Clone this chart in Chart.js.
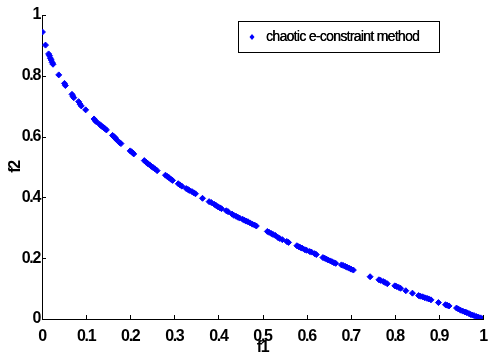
<!DOCTYPE html>
<html><head><meta charset="utf-8">
<script src="https://cdn.jsdelivr.net/npm/chart.js@4"></script>
<style>html,body{margin:0;padding:0;background:#fff}#wrap{width:488px;height:352px}</style>
</head><body><div id="wrap"><canvas id="c" width="488" height="352"></canvas></div>
<script>
const seriesLabel = "chaotic e-constraint method";
const f1 = [0.001,0.008,0.015,0.017,0.019,0.021,0.023,0.025,0.038,0.051,0.053,0.068,0.070,0.072,0.083,0.086,0.089,0.099,0.118,0.121,0.123,0.131,0.134,0.137,0.140,0.143,0.146,0.160,0.163,0.166,0.169,0.176,0.179,0.200,0.203,0.206,0.208,0.232,0.236,0.240,0.244,0.248,0.252,0.256,0.261,0.280,0.284,0.288,0.292,0.296,0.309,0.313,0.317,0.327,0.331,0.334,0.340,0.344,0.348,0.364,0.379,0.384,0.391,0.395,0.399,0.403,0.407,0.418,0.422,0.431,0.435,0.440,0.444,0.448,0.455,0.459,0.463,0.467,0.472,0.477,0.482,0.486,0.511,0.515,0.520,0.524,0.529,0.535,0.539,0.545,0.555,0.559,0.578,0.582,0.586,0.590,0.596,0.600,0.607,0.611,0.618,0.622,0.637,0.641,0.645,0.649,0.654,0.658,0.662,0.666,0.679,0.683,0.688,0.692,0.697,0.701,0.706,0.744,0.764,0.768,0.774,0.778,0.783,0.800,0.804,0.809,0.813,0.825,0.840,0.854,0.858,0.863,0.868,0.873,0.877,0.882,0.899,0.915,0.919,0.923,0.940,0.944,0.949,0.954,0.959,0.963,0.968,0.972,0.976,0.980,0.985,0.989,0.993,0.997,1.000];
const f2 = [0.944,0.901,0.872,0.866,0.858,0.852,0.844,0.838,0.803,0.775,0.768,0.739,0.733,0.728,0.715,0.707,0.701,0.688,0.658,0.652,0.649,0.640,0.636,0.632,0.629,0.626,0.622,0.604,0.600,0.596,0.590,0.580,0.577,0.553,0.550,0.546,0.543,0.521,0.516,0.511,0.507,0.502,0.498,0.494,0.488,0.473,0.469,0.465,0.460,0.456,0.445,0.441,0.437,0.429,0.426,0.423,0.419,0.415,0.412,0.397,0.386,0.383,0.377,0.373,0.369,0.366,0.363,0.356,0.353,0.345,0.341,0.338,0.335,0.332,0.328,0.325,0.322,0.320,0.316,0.312,0.309,0.306,0.288,0.285,0.281,0.278,0.275,0.268,0.265,0.261,0.255,0.252,0.241,0.238,0.235,0.233,0.228,0.226,0.222,0.220,0.215,0.212,0.202,0.200,0.197,0.194,0.191,0.188,0.185,0.183,0.178,0.176,0.173,0.170,0.167,0.164,0.161,0.139,0.129,0.127,0.123,0.120,0.116,0.109,0.107,0.104,0.101,0.093,0.085,0.077,0.075,0.073,0.070,0.068,0.066,0.063,0.054,0.047,0.045,0.043,0.036,0.033,0.029,0.026,0.023,0.021,0.018,0.015,0.013,0.011,0.008,0.006,0.004,0.002,0.000];
const xTickLabels = ["0","0.1","0.2","0.3","0.4","0.5","0.6","0.7","0.8","0.9","1"];
const yTickLabels = ["0","0.2","0.4","0.6","0.8","1"];
const xTitle = "f1", yTitle = "f2";

const points = f1.map((v,i)=>({x:v,y:f2[i]}));
const BLUE = "#0000ff";
const tickFont = {family:"'Liberation Sans', Arial, sans-serif", size:16, weight:"bold"};

const spacingPlugin = {
  id:'spacing',
  beforeDraw(chart){ chart.ctx.letterSpacing = "-1.3px"; }
};
const inwardTicks = {
  id:'inwardTicks',
  afterDraw(chart){
    const ctx = chart.ctx, a = chart.chartArea;
    const xs = chart.scales.x, ys = chart.scales.y;
    ctx.save();
    ctx.strokeStyle = "#000"; ctx.lineWidth = 1;
    ctx.beginPath();
    xs.ticks.forEach(t=>{
      const px = Math.round(xs.getPixelForValue(t.value))+0.5;
      ctx.moveTo(px, a.bottom); ctx.lineTo(px, a.bottom-4);
    });
    ys.ticks.forEach(t=>{
      const py = Math.round(ys.getPixelForValue(t.value))+0.5;
      ctx.moveTo(a.left, py); ctx.lineTo(a.left+4, py);
    });
    ctx.stroke();
    // legend box
    const lx=238.5, ly=21.5, lw=201, lh=31;
    ctx.fillStyle="#fff"; ctx.fillRect(lx,ly,lw,lh);
    ctx.strokeRect(lx,ly,lw,lh);
    ctx.fillStyle = BLUE;
    ctx.beginPath();
    ctx.moveTo(252,34); ctx.lineTo(254.5,37); ctx.lineTo(252,40); ctx.lineTo(249.5,37); ctx.closePath();
    ctx.fill();
    ctx.fillStyle="#000";
    ctx.letterSpacing = "-0.7px";
    ctx.font = "14px 'Liberation Sans', Arial, sans-serif";
    ctx.textBaseline = "middle"; ctx.textAlign = "left";
    ctx.fillText(chart.data.datasets[0].label, 266, 37);
    ctx.fillText(chart.data.datasets[0].label, 266.3, 37);
    ctx.restore();
  }
};

new Chart(document.getElementById('c'), {
  type:'scatter',
  data:{datasets:[{label:seriesLabel, data:points, backgroundColor:BLUE, borderColor:BLUE,
    pointStyle:'rectRot', pointRadius:3, borderWidth:1}]},
  options:{
    responsive:false, animation:false, devicePixelRatio:1,
    layout:{padding:{left:0,right:0,top:15,bottom:0}},
    plugins:{legend:{display:false}, tooltip:{enabled:false}},
    scales:{
      x:{type:'linear', min:0, max:1,
        afterBuildTicks(s){ s.ticks = xTickLabels.map(l=>({value:parseFloat(l)})); },
        afterFit(s){ s.height = 33; s.paddingRight = 4; s.paddingLeft = 0; },
        ticks:{font:tickFont, color:"#000", padding:8, maxRotation:0, autoSkip:false,
          callback:(v,i)=>xTickLabels[i]},
        grid:{display:true, drawOnChartArea:false, drawTicks:false},
        border:{display:true,color:"#000",width:1},
        title:{display:true, text:xTitle, font:tickFont, color:"#000", padding:{top:0,bottom:-5}}
      },
      y:{type:'linear', min:0, max:1,
        afterBuildTicks(s){ s.ticks = yTickLabels.map(l=>({value:parseFloat(l)})); },
        afterFit(s){ s.width = 42; s.paddingTop = 15; s.paddingBottom = 0; },
        ticks:{font:tickFont, color:"#000", padding:2, autoSkip:false,
          callback:(v,i)=>yTickLabels[i]},
        grid:{display:true, drawOnChartArea:false, drawTicks:false},
        border:{display:true,color:"#000",width:1},
        title:{display:true, text:yTitle, font:tickFont, color:"#000", padding:{top:6,bottom:0}}
      }
    }
  },
  plugins:[spacingPlugin, inwardTicks]
});
</script></body></html>
